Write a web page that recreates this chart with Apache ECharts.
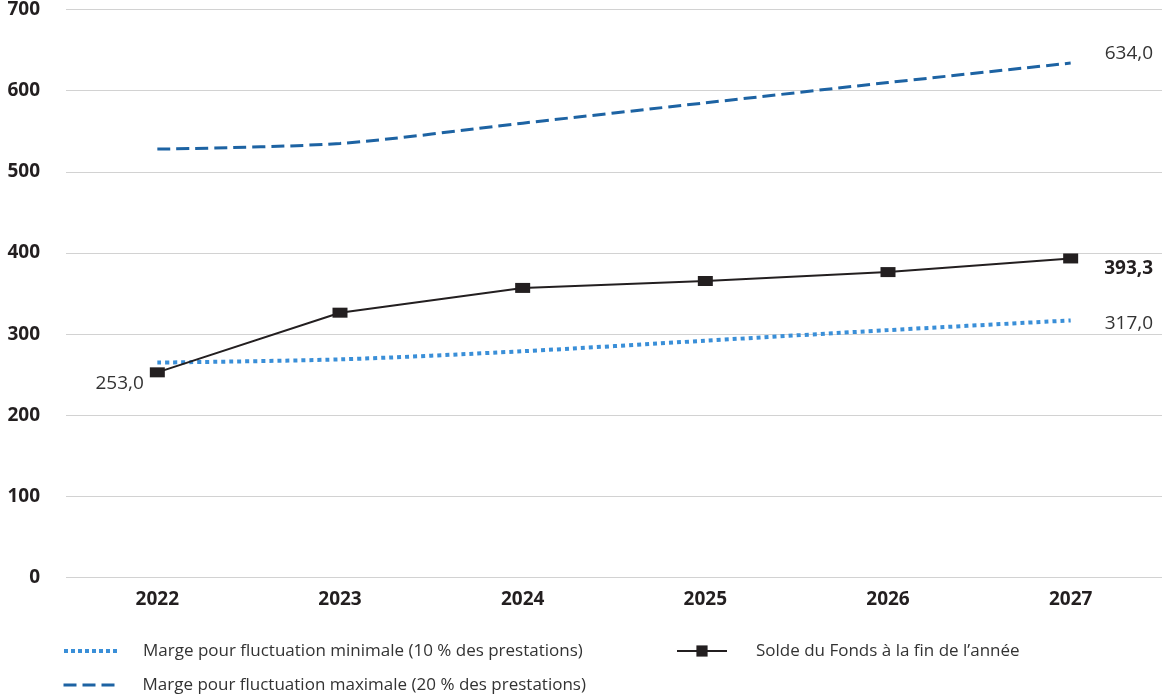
<!DOCTYPE html>
<html>
<head>
<meta charset="utf-8">
<script src="https://cdn.jsdelivr.net/npm/echarts@6/dist/echarts.min.js"></script>
<style>
  html, body { margin: 0; padding: 0; background: #fff; }
  #chart { width: 1166px; height: 694px; }
</style>
</head>
<body>
<div id="chart"></div>
<script>
// Years on the horizontal axis
const years = ['2022', '2023', '2024', '2025', '2026', '2027'];

// Minimum fluctuation margin (10 % of benefits)
const margeMin = [265, 269, 279, 292, 305, 317.0];
// Maximum fluctuation margin (20 % of benefits)
const margeMax = [528, 535, 560, 585, 610, 634.0];
// Fund balance at year end
const solde = [253.0, 326.5, 357, 365.5, 376.5, 393.3];

const nameMin = 'Marge pour fluctuation minimale (10 % des prestations)';
const nameMax = 'Marge pour fluctuation maximale (20 % des prestations)';
const nameSolde = 'Solde du Fonds à la fin de l’année';

const fmt = v => v.toFixed(1).replace('.', ',');
const FONT = '"Open Sans", "Noto Sans", sans-serif';
const TXT = '#231f20';
const LBL = 19;

// Attach a value label to selected points only
function withLabels(values, labelled) {
  return values.map((v, i) => labelled[i] ? { value: v, label: Object.assign({ show: true, formatter: fmt(v) }, labelled[i]) } : v);
}

// One legend entry per block, placed under the plot
function legendItem(name, left, top, lineW, gap, extra) {
  return {
    left, top, padding: 0,
    itemWidth: lineW, itemHeight: 14,
    textStyle: { color: '#333', fontSize: 17, lineHeight: 20, fontFamily: FONT, padding: [0, 0, 0, gap] },
    data: [Object.assign({ name }, extra)]
  };
}

const last = years.length - 1;
const chart = echarts.init(document.getElementById('chart'), null, { renderer: 'canvas' });

chart.setOption({
  animation: false,
  textStyle: { fontFamily: FONT },
  grid: { left: 66, right: 4, top: 9.5, bottom: 116.3 },
  xAxis: {
    type: 'category',
    data: years,
    boundaryGap: true,
    axisLine: { show: false },
    axisTick: { show: false },
    axisLabel: { color: TXT, fontSize: 19, fontWeight: 'bold', fontFamily: FONT, margin: 12 }
  },
  yAxis: {
    type: 'value',
    min: 0, max: 700, interval: 100,
    axisLine: { show: false },
    axisTick: { show: false },
    axisLabel: { color: TXT, fontSize: 19, fontWeight: 'bold', fontFamily: FONT, margin: 26 },
    splitLine: { lineStyle: { color: '#d2d2d2', width: 1 } }
  },
  legend: [
    legendItem(nameMin, 62, 641, 55, 19, { itemStyle: { opacity: 0 }, lineStyle: { width: 4, type: [4, 3] } }),
    legendItem(nameMax, 62, 675, 55, 19, { itemStyle: { opacity: 0 }, lineStyle: { width: 3, type: [13, 6] } }),
    legendItem(nameSolde, 676, 641, 50, 24, { lineStyle: { width: 2 } })
  ],
  series: [
    {
      name: nameMin,
      type: 'line',
      data: margeMin,
      smooth: 0.3,
      symbol: 'none',
      lineStyle: { color: '#3a8fd8', width: 4, type: [4, 4] },
      itemStyle: { color: '#3a8fd8' },
      endLabel: { show: true, formatter: p => fmt(p.value), distance: 34, offset: [0, 3], color: '#333', fontSize: LBL, fontFamily: FONT },
      z: 2
    },
    {
      name: nameMax,
      type: 'line',
      data: margeMax,
      smooth: 0.3,
      symbol: 'none',
      lineStyle: { color: '#1d63a3', width: 3, type: [13, 6] },
      itemStyle: { color: '#1d63a3' },
      endLabel: { show: true, formatter: p => fmt(p.value), distance: 34, offset: [0, -9], color: '#333', fontSize: LBL, fontFamily: FONT },
      z: 2
    },
    {
      name: nameSolde,
      type: 'line',
      data: withLabels(solde, {
        0: { position: 'left', distance: 6, offset: [0, 11], color: '#333', fontSize: LBL, fontFamily: FONT },
        [last]: { position: 'right', distance: 26, offset: [0, 10], color: TXT, fontSize: LBL, fontWeight: 'bold', fontFamily: FONT }
      }),
      symbol: 'rect',
      symbolSize: [15, 10],
      lineStyle: { color: TXT, width: 2 },
      itemStyle: { color: TXT },
      z: 3
    }
  ]
});
</script>
</body>
</html>
